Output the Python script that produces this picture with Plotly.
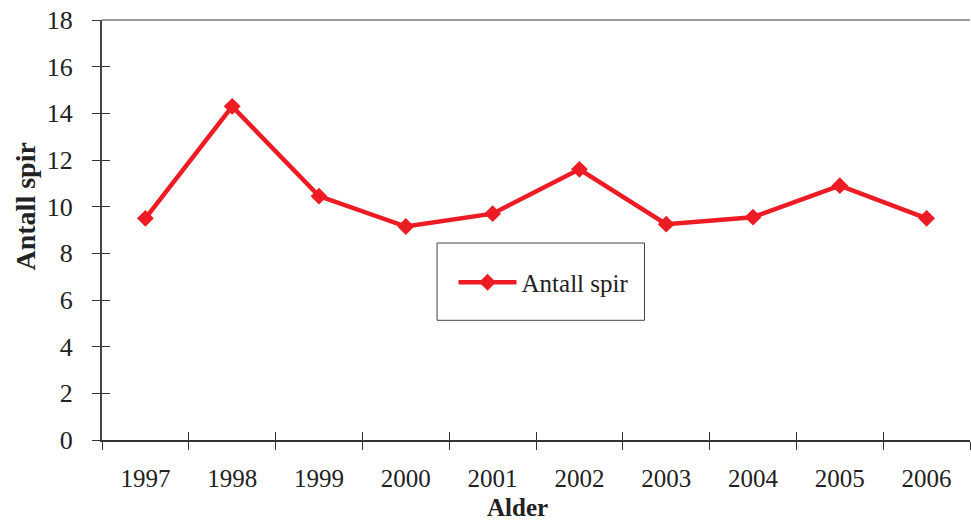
import plotly.graph_objects as go

# Antall spir per år
years = ["1997", "1998", "1999", "2000", "2001", "2002", "2003", "2004", "2005", "2006"]
antall_spir = [9.5, 14.3, 10.45, 9.15, 9.7, 11.6, 9.25, 9.55, 10.9, 9.5]
y_ticks = [0, 2, 4, 6, 8, 10, 12, 14, 16, 18]

RED = "#ED1C24"
FONT = "Liberation Serif"

fig = go.Figure()

fig.add_trace(go.Scatter(
    x=years, y=antall_spir, name="Antall spir",
    mode="lines+markers",
    line=dict(color=RED, width=4.5),
    marker=dict(symbol="diamond", size=13, color=RED),
))

# Ghost trace on overlaid axes so the inward half of each tick is drawn too
fig.add_trace(go.Scatter(
    x=years, y=antall_spir, xaxis="x2", yaxis="y2",
    mode="lines", line=dict(width=0), opacity=0,
    showlegend=False, hoverinfo="skip",
))

fig.update_layout(
    width=971, height=522,
    margin=dict(l=102, r=1, t=20, b=82),
    paper_bgcolor="white", plot_bgcolor="white",
    font=dict(family=FONT, color="#222"),
    showlegend=True,
    legend=dict(
        x=0.405, y=0.375, xanchor="left", yanchor="middle",
        bgcolor="rgba(0,0,0,0)", borderwidth=0,
        font=dict(family=FONT, size=25, color="#222"),
        itemwidth=58,
    ),
    xaxis=dict(
        type="category", categoryorder="array", categoryarray=years,
        range=[-0.5, 9.5],
        showgrid=False, zeroline=False,
        showline=True, linecolor="#333", linewidth=2,
        ticks="outside", ticklen=8, tickcolor="#333", tickwidth=1,
        tickson="boundaries",
        tickfont=dict(family=FONT, size=25, color="#222"), ticklabelstandoff=15,
    ),
    yaxis=dict(
        range=[0, 18], tickvals=y_ticks,
        showgrid=False, zeroline=False,
        showline=True, linecolor="#444", linewidth=2,
        ticks="outside", ticklen=8, tickcolor="#333", tickwidth=1,
        tickfont=dict(family=FONT, size=26, color="#222"), ticklabelstandoff=14,
    ),
    xaxis2=dict(
        type="category", categoryorder="array", categoryarray=years,
        matches="x", overlaying="x", anchor="y2", side="bottom",
        showgrid=False, zeroline=False, showline=False,
        ticks="inside", ticklen=8, tickcolor="#333", tickwidth=1,
        tickson="boundaries", showticklabels=False,
    ),
    yaxis2=dict(
        matches="y", overlaying="y", anchor="x2", side="left",
        tickvals=y_ticks,
        showgrid=False, zeroline=False, showline=False,
        ticks="inside", ticklen=8, tickcolor="#333", tickwidth=1,
        showticklabels=False,
    ),
    annotations=[
        dict(text="<b>Alder</b>", xref="paper", yref="paper",
             x=0.479, y=-0.195, xanchor="center", yanchor="bottom",
             showarrow=False, borderpad=0,
             font=dict(family=FONT, size=25, color="#222")),
        dict(text="<b>Antall spir</b>", xref="paper", yref="paper",
             x=-0.088, y=0.555, xanchor="center", yanchor="middle", textangle=-90,
             showarrow=False, font=dict(family=FONT, size=28, color="#222")),
    ],
    shapes=[
        # top border of the plot area
        dict(type="line", xref="paper", yref="paper", x0=0, x1=1, y0=1, y1=1,
             line=dict(color="#999", width=2)),
        # legend frame
        dict(type="rect", xref="paper", yref="paper",
             x0=0.386, x1=0.625, y0=0.285, y1=0.469,
             line=dict(color="#444", width=1), fillcolor="white", layer="below"),
    ],
)

fig.write_html("out.html")
